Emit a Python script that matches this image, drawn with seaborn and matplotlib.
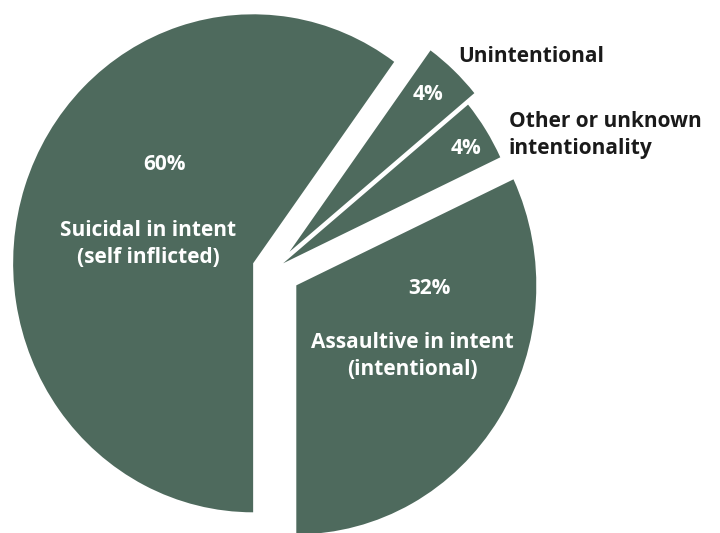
import matplotlib
matplotlib.use("Agg")
import matplotlib.pyplot as plt
import seaborn as sns

# === Data (counter-clockwise from 6 o'clock) ===
categories = ["Assaultive in intent\n(intentional)", "Other or unknown\nintentionality",
              "Unintentional", "Suicidal in intent\n(self inflicted)"]
shares = [32, 4, 4, 60]
pct_labels = ["32%", "4%", "4%", "60%"]
explode = [0.115, 0.05, 0.1, 0.087]

sns.set_theme(style="white")
plt.rcParams["font.family"] = ["Open Sans", "DejaVu Sans"]

W, H = 720, 533
RX, RY = 240.0, 249.0   # pie radius in pixels (slightly taller than wide)
CX, CY = 273, 270       # pie centre in image pixels (y from top)

fig = plt.figure(figsize=(W / 100, H / 100), dpi=100)
ax = fig.add_axes([0, 0, 1, 1])

green = "#4e6a5d"
ax.pie(shares, startangle=-90, counterclock=True, colors=[green] * 4,
       explode=explode, wedgeprops=dict(linewidth=0))

ax.set_aspect("auto")
ax.set_xlim(-CX / RX, (W - CX) / RX)
ax.set_ylim(-(H - CY) / RY, CY / RY)
ax.axis("off")


def px(x, y):
    # image pixel -> data coordinates
    return (x - CX) / RX, (CY - y) / RY


white_txt = dict(color="white", fontweight="bold", ha="center", va="center",
                 fontsize=15, linespacing=1.35)
ax.text(*px(164, 165), pct_labels[3], **white_txt)
ax.text(*px(148, 244), categories[3], **white_txt)
ax.text(*px(429, 289), pct_labels[0], **white_txt)
ax.text(*px(412, 356), categories[0], **white_txt)
ax.text(*px(428, 94), pct_labels[2], **white_txt)
ax.text(*px(466, 149), pct_labels[1], **white_txt)

black_txt = dict(color="#1a1a1a", fontweight="bold", ha="left", va="center",
                 fontsize=15, linespacing=1.35)
ax.text(*px(458, 57), categories[2], **black_txt)
ax.text(*px(509, 135), categories[1], **black_txt)

fig.savefig("out.png", dpi=100, facecolor="white")
